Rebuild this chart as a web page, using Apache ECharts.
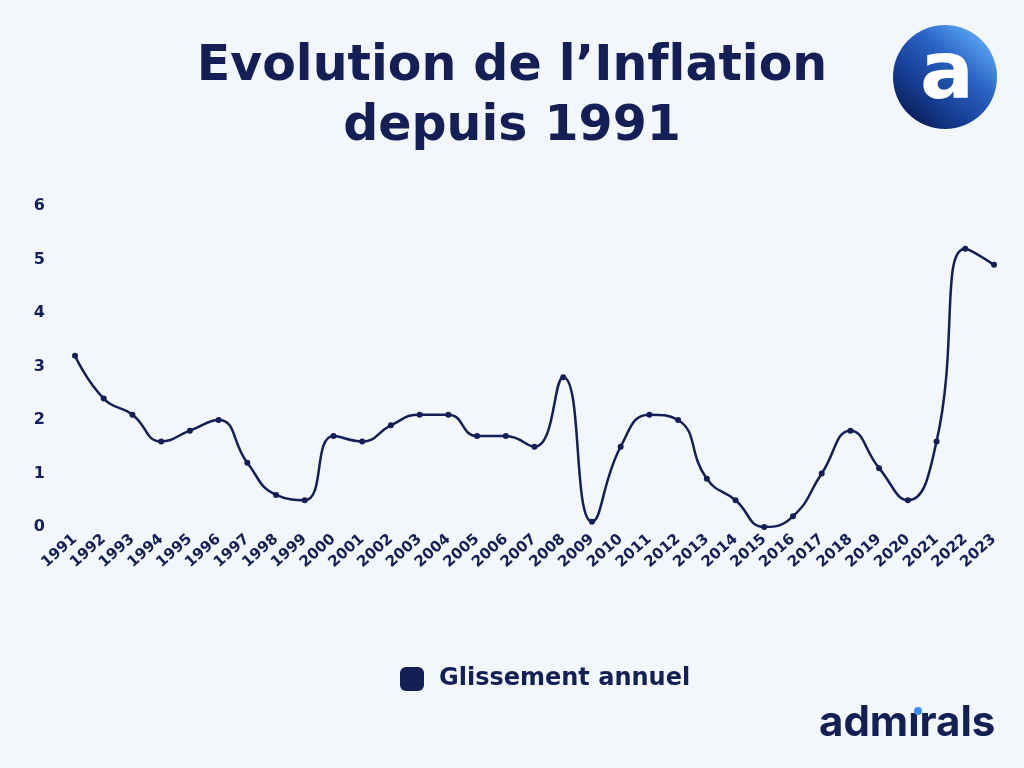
<!DOCTYPE html>
<html>
<head>
<meta charset="utf-8">
<script src="https://cdn.jsdelivr.net/npm/echarts@6/dist/echarts.min.js"></script>
<style>
  html, body { margin: 0; padding: 0; background: #f3f6fb; }
  #container { width: 1024px; height: 768px; }
</style>
</head>
<body>
<div id="container"></div>
<script>
// années et glissement annuel (%)
var years = ['1991', '1992', '1993', '1994', '1995', '1996', '1997', '1998', '1999', '2000',
  '2001', '2002', '2003', '2004', '2005', '2006', '2007', '2008', '2009', '2010',
  '2011', '2012', '2013', '2014', '2015', '2016', '2017', '2018', '2019', '2020',
  '2021', '2022', '2023'];
var glissement = [3.2, 2.4, 2.1, 1.6, 1.8, 2.0, 1.2, 0.6, 0.5, 1.7,
  1.6, 1.9, 2.1, 2.1, 1.7, 1.7, 1.5, 2.8, 0.1, 1.5,
  2.1, 2.0, 0.9, 0.5, 0.0, 0.2, 1.0, 1.8, 1.1, 0.5,
  1.6, 5.2, 4.9];
// \u200c : pas de ligature "fl"
var titleLines = ['Evolution de l\u2019Inf\u200clation', 'depuis 1991'];
var seriesName = 'Glissement annuel';

var navy = '#131f55';
var font = 'DejaVu Sans';

var myChart = echarts.init(document.getElementById('container'));
var option = {
  backgroundColor: '#f3f6fb',
  title: {
    text: titleLines.join('\n'),
    left: 'center',
    top: 32,
    textStyle: {
      fontFamily: font,
      fontWeight: 'bold',
      fontSize: 49,
      lineHeight: 60,
      color: navy
    }
  },
  legend: {
    data: [seriesName],
    left: 395,
    top: 662,
    icon: 'roundRect',
    itemWidth: 24,
    itemHeight: 24,
    itemGap: 14,
    textStyle: {
      fontFamily: font,
      fontWeight: 'bold',
      fontSize: 24,
      color: navy,
      padding: [0, 0, 0, 10]
    }
  },
  grid: {
    left: 75,
    right: 30,
    top: 206,
    bottom: 241,
    containLabel: false
  },
  xAxis: {
    type: 'category',
    boundaryGap: false,
    data: years,
    axisLine: { show: false },
    axisTick: { show: false },
    axisLabel: {
      rotate: 42,
      interval: 0,
      margin: 10,
      fontFamily: font,
      fontWeight: 'bold',
      fontSize: 15,
      color: navy
    }
  },
  yAxis: {
    type: 'value',
    min: 0,
    max: 6,
    interval: 1,
    splitLine: { show: false },
    axisLine: { show: false },
    axisTick: { show: false },
    axisLabel: {
      margin: 30,
      fontFamily: font,
      fontWeight: 'bold',
      fontSize: 16,
      color: navy
    }
  },
  graphic: [
    {
      type: 'circle',
      shape: { cx: 945, cy: 77, r: 52 },
      style: {
        fill: {
          type: 'linear', x: 0.85, y: 0.1, x2: 0.15, y2: 0.9,
          colorStops: [
            { offset: 0, color: '#5aa6f5' },
            { offset: 0.35, color: '#2a62c4' },
            { offset: 0.7, color: '#173f95' },
            { offset: 1, color: '#0b1f5c' }
          ]
        }
      }
    },
    {
      type: 'text',
      left: 920,
      top: 37,
      style: {
        text: 'a',
        fontFamily: font,
        fontWeight: 'bold',
        fontSize: 80,
        fill: '#ffffff'
      }
    },
    {
      type: 'text',
      left: 819,
      top: 702,
      style: {
        text: 'adm\u0131rals',
        fontFamily: 'Inter',
        fontWeight: 'bold',
        fontSize: 42,
        fill: navy
      }
    },
    {
      type: 'circle',
      shape: { cx: 918, cy: 711, r: 4 },
      style: { fill: '#3d8ff5' }
    }
  ],
  series: [{
    name: seriesName,
    type: 'line',
    data: glissement,
    smooth: 0.5,
    symbol: 'circle',
    symbolSize: 6,
    lineStyle: { color: navy, width: 2.5 },
    itemStyle: { color: navy }
  }]
};
myChart.setOption(option);
</script>
</body>
</html>
